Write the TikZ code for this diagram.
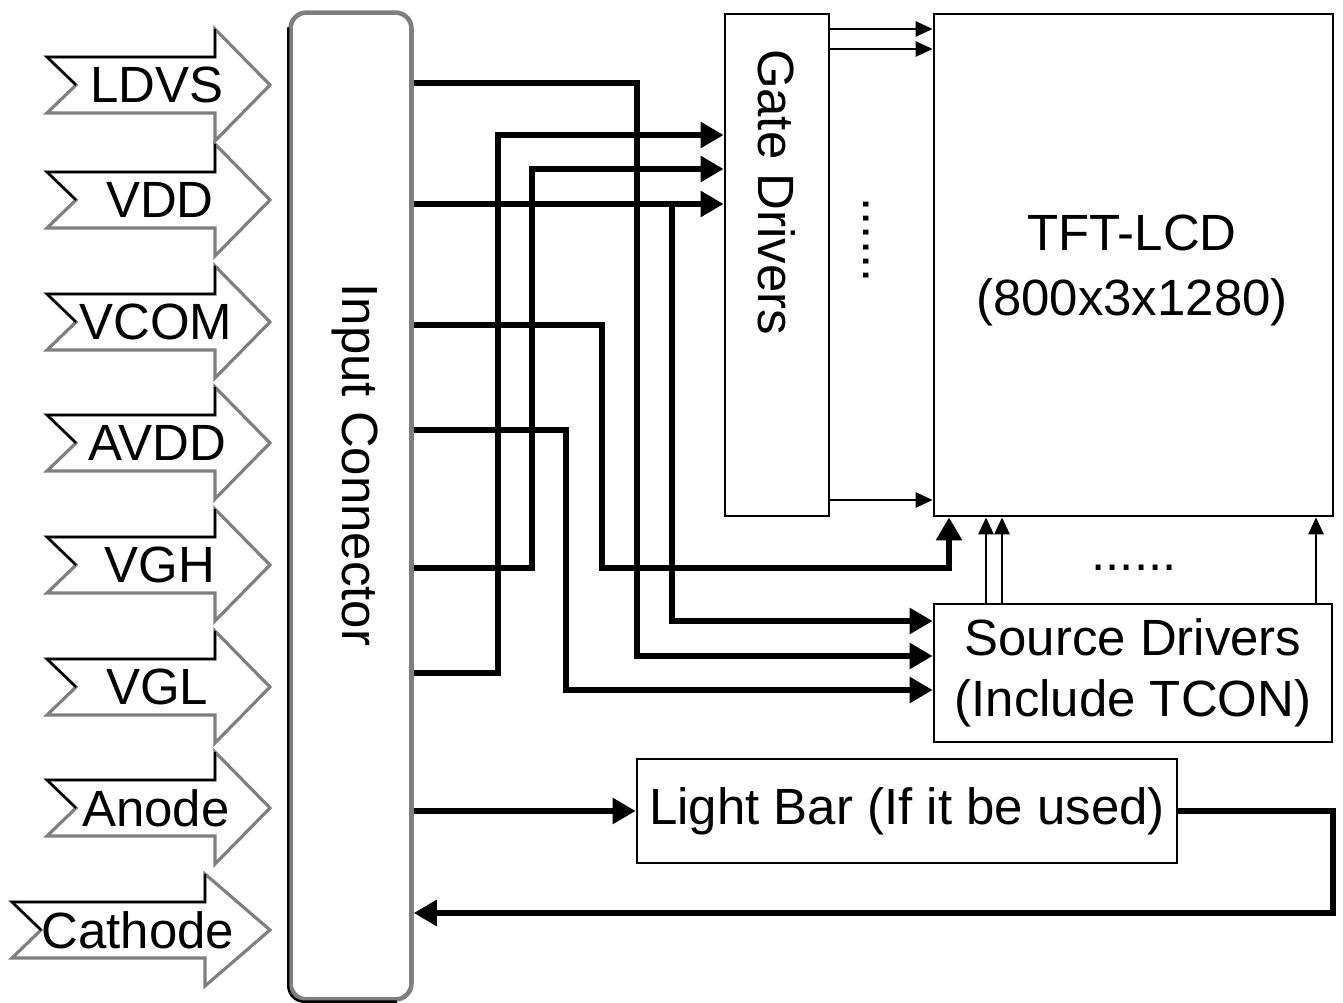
\documentclass[tikz,border=0pt]{standalone}
\usepackage{fontspec}
\setmainfont{Liberation Sans}
\usetikzlibrary{arrows.meta,positioning}
\definecolor{ShadeGray}{HTML}{7F7F7F}
\tikzset{
  blockbox/.style={
    draw,
    line width=1.6pt,
    fill=white,
    inner sep=0pt
  },
  bigfont/.style={font=\fontsize{29}{37}\selectfont},
  bus/.style={line width=3.2pt},
  busarrow/.style={bus, -{Triangle[length=0.46cm, width=0.5cm]}},
  sigline/.style={line width=1.6pt, -{Triangle[length=0.34cm, width=0.3cm]}}
}

\begin{document}
\begin{tikzpicture}[
  x=0.02cm, y=-0.02cm,
  inshape/.style={fill=white, draw=ShadeGray, line width=1.8pt, line join=miter},
  inedge/.style={draw=black, line width=1.3pt},
  lbl/.style={bigfont, inner sep=0pt}
]
\useasboundingbox (0,0) rectangle (1343,1003);

% input signal arrows
\foreach \y/\tx/\hx/\cx/\nm/\txt in {85/47/215/157/ldvs/LDVS, 200/47/215/160/vdd/VDD,
    322/47/215/156/vcom/VCOM, 443/47/215/157/avdd/AVDD, 565/47/215/160/vgh/VGH,
    687/47/215/157/vgl/VGL, 808/47/215/156/anode/Anode, 930/12/205/138/cathode/Cathode}{
  \draw[inshape] (\tx,\y-28) -- (\hx,\y-28) -- (\hx,\y-56) -- (270,\y) -- (\hx,\y+56)
    -- (\hx,\y+28) -- (\tx,\y+28) -- (\tx+29,\y) -- cycle;
  \draw[inedge] (\tx+29,\y) -- (\tx,\y-28) -- (\hx,\y-28) -- (\hx,\y-56);
  \node[lbl] (\nm) at (\cx,\y) {\txt};
}

% input connector
\node[blockbox, draw=ShadeGray, line width=2.6pt, rounded corners=0.32cm,
  minimum width=2.42cm, minimum height=19.74cm] (conn) at (351,506) {};
\draw[line width=1.4pt, rounded corners=0.32cm]
  ([yshift=-0.34cm]conn.north west) -- (conn.south west) -- ([xshift=-0.34cm]conn.south east);
\node[lbl, rotate=-90] (connlbl) at (355,465) {Input Connector};

% blocks
\node[blockbox, minimum width=2.08cm, minimum height=10.04cm] (gate) at (777,265) {};
\node[lbl, rotate=-90] (gatelbl) at (777,192) {Gate Drivers};
\node[blockbox, minimum width=7.98cm, minimum height=10.04cm] (tft) at (1133.5,265) {};
\node[lbl, align=center] (tftlbl) at (1132,270) {TFT-LCD\\(800x3x1280)};
\node[blockbox, minimum width=7.96cm, minimum height=2.76cm, lbl,
  font=\fontsize{29}{35}\selectfont, align=center]
  (src) at (1133,673) {Source Drivers\\(Include TCON)};
\node[blockbox, minimum width=10.8cm, minimum height=2.08cm, lbl]
  (bar) at (907,811) {Light Bar (If it be used)};
\node[lbl, rotate=-90] (vdots) at (866,240) {......};
\node[lbl] (hdots) at (1134,568) {......};

% gate drivers -> panel
\foreach \y in {29,49,500}
  \draw[sigline] (gate.east |- 0,\y) -- (tft.west |- 0,\y);
% source drivers -> panel
\foreach \x in {986,1002,1316}
  \draw[sigline] (src.north -| \x,0) -- (tft.south -| \x,0);

% LDVS
\draw[busarrow] (conn.east |- 0,83) -| (637,656) -- (src.west |- 0,656);
% VDD
\draw[busarrow] (conn.east |- 0,204) -- (gate.west |- 0,204);
\draw[busarrow] (672,204) |- (src.west |- 0,621);
% VCOM
\draw[busarrow] (conn.east |- 0,325) -| (602,568) -| (tft.south -| 949,0);
% AVDD
\draw[busarrow] (conn.east |- 0,430) -| (566,690) -- (src.west |- 0,690);
% VGH
\draw[busarrow] (conn.east |- 0,568) -| (532,169) -- (gate.west |- 0,169);
% VGL
\draw[busarrow] (conn.east |- 0,673) -| (498,135) -- (gate.west |- 0,135);
% Anode / Cathode
\draw[busarrow] (conn.east |- bar.west) -- (bar.west);
\draw[busarrow] (bar.east) -| (1333,913) -- (conn.east |- 0,913);
\end{tikzpicture}
\end{document}
